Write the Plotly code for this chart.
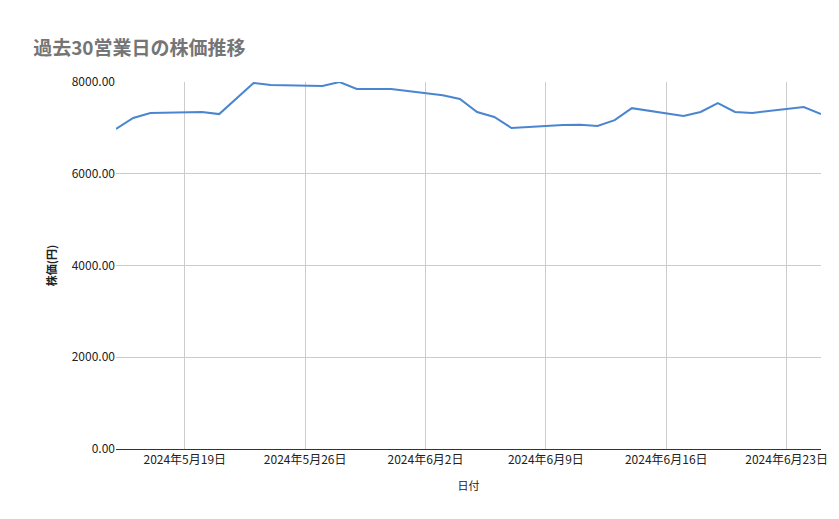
import plotly.graph_objects as go

dates = ["2024-05-15","2024-05-16","2024-05-17","2024-05-20","2024-05-21","2024-05-23","2024-05-24",
         "2024-05-27","2024-05-28","2024-05-29","2024-05-31","2024-06-03","2024-06-04","2024-06-05",
         "2024-06-06","2024-06-07","2024-06-10","2024-06-11","2024-06-12","2024-06-13","2024-06-14",
         "2024-06-17","2024-06-18","2024-06-19","2024-06-20","2024-06-21","2024-06-24","2024-06-25"]
prices = [6976,7216,7325,7347,7300,7978,7935,7913,8000,7847,7847,7710,7630,7346,
          7237,6998,7060,7070,7040,7170,7430,7260,7346,7542,7346,7325,7455,7300]
tick_vals = ["2024-05-19","2024-05-26","2024-06-02","2024-06-09","2024-06-16","2024-06-23"]
tick_text = ["2024年5月19日","2024年5月26日","2024年6月2日","2024年6月9日","2024年6月16日","2024年6月23日"]

fig = go.Figure(go.Scatter(x=dates, y=prices, mode="lines", line=dict(color="#4a86d0", width=2)))
fig.update_layout(
    width=839, height=519, plot_bgcolor="white", paper_bgcolor="white",
    font=dict(family="Noto Sans CJK JP", size=12, color="#222"),
    title=dict(text="<b>過去30営業日の株価推移</b>", x=0.03, y=0.935, font=dict(size=19, color="#757575")),
    margin=dict(l=108, r=26, t=74, b=78, autoexpand=False), showlegend=False,
)
fig.update_xaxes(range=["2024-05-15","2024-06-25"], tickvals=tick_vals, ticktext=tick_text,
                 showgrid=True, gridcolor="#cccccc", title=dict(text="日付", font=dict(size=11)),
                 showline=True, linecolor="#333", ticks="", automargin=False)
fig.update_yaxes(range=[0, 8000], dtick=2000, tickformat=".2f", showgrid=True, gridcolor="#cccccc",
                 zeroline=False, automargin=False, title=dict(text="<b>株価(円)</b>", font=dict(size=11), standoff=12))
fig.write_html("out.html")
